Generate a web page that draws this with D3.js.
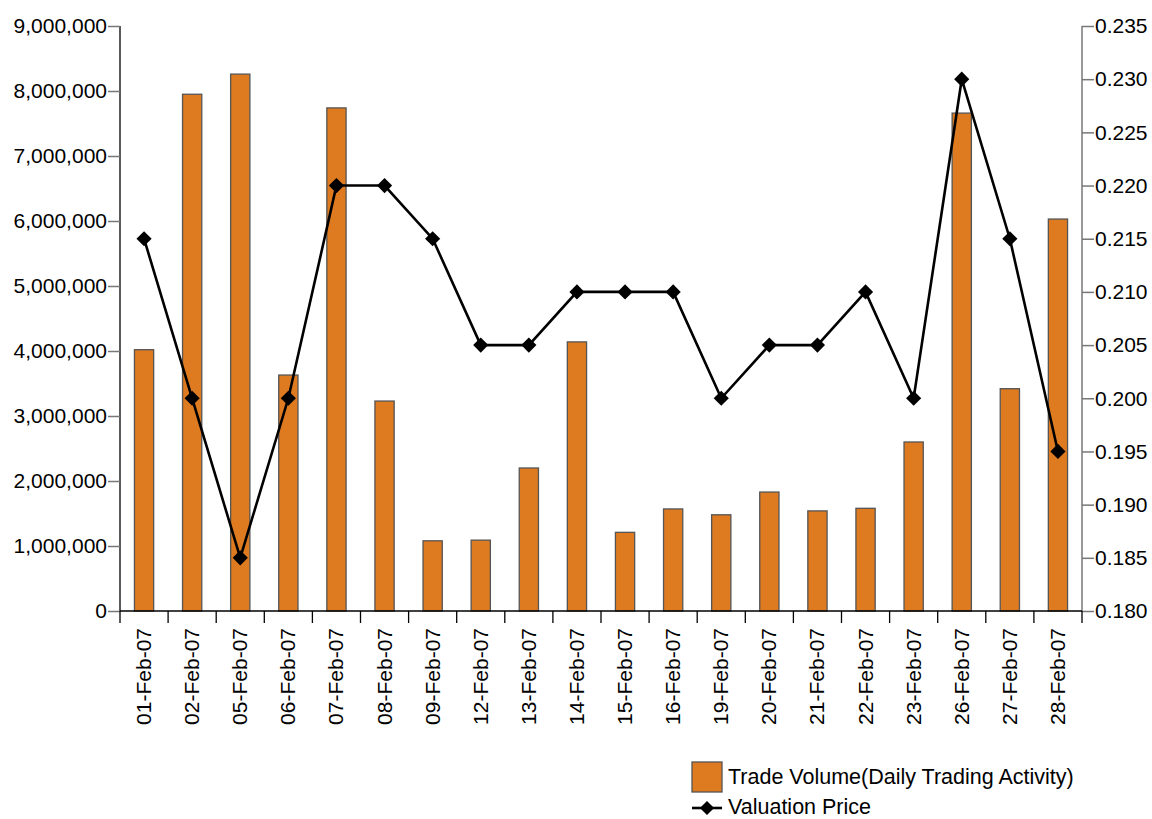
<!DOCTYPE html>
<html><head><meta charset="utf-8">
<script src="https://cdn.jsdelivr.net/npm/d3@7"></script>
<style>body{margin:0;background:#fff}svg{display:block}text{font-family:"Liberation Sans",Arial,sans-serif;fill:#000}</style>
</head><body><svg id="c" width="1152" height="819"></svg>
<script>
const categories = ["01-Feb-07","02-Feb-07","05-Feb-07","06-Feb-07","07-Feb-07","08-Feb-07","09-Feb-07","12-Feb-07","13-Feb-07","14-Feb-07","15-Feb-07","16-Feb-07","19-Feb-07","20-Feb-07","21-Feb-07","22-Feb-07","23-Feb-07","26-Feb-07","27-Feb-07","28-Feb-07"];
const volume = [4020000,7950000,8260000,3630000,7740000,3230000,1080000,1090000,2200000,4140000,1210000,1570000,1480000,1830000,1540000,1580000,2600000,7660000,3420000,6030000];
const price = [0.215,0.200,0.185,0.200,0.220,0.220,0.215,0.205,0.205,0.210,0.210,0.210,0.200,0.205,0.205,0.210,0.200,0.230,0.215,0.195];
const leftTicks = [0,1000000,2000000,3000000,4000000,5000000,6000000,7000000,8000000,9000000];
const rightTicks = [0.180,0.185,0.190,0.195,0.200,0.205,0.210,0.215,0.220,0.225,0.230,0.235];
const seriesNames = ["Trade Volume(Daily Trading Activity)","Valuation Price"];

const svg = d3.select("#c");
const L = 120, R = 1082, T = 26, B = 611;
const x = d3.scaleBand().domain(categories).range([L, R]).paddingInner(0.6).paddingOuter(0.3);
const xb = d3.scaleBand().domain(categories).range([L, R]);
const yL = d3.scaleLinear().domain([0, 9000000]).range([B, T]);
const yR = d3.scaleLinear().domain([0.180, 0.235]).range([B, T]);
const fmt = d3.format(",");

// bars
svg.append("g").selectAll("rect").data(volume).join("rect")
  .attr("x", (d,i) => x(categories[i]))
  .attr("y", d => yL(d))
  .attr("width", x.bandwidth())
  .attr("height", d => B - yL(d))
  .attr("fill", "#DE7A1F").attr("stroke", "#555").attr("stroke-width", 1.3);

// left axis
const gL = svg.append("g").attr("transform", `translate(${L},0)`)
  .call(d3.axisLeft(yL).tickValues(leftTicks).tickFormat(fmt).tickSize(12).tickPadding(1));
gL.select(".domain").attr("stroke", "#000").attr("stroke-width", 1.3).attr("d", `M0,${T}V${B}`);
gL.selectAll(".tick line").attr("stroke", "#777").attr("stroke-width", 1.5);
gL.selectAll("text").style("font-size", "21px").attr("fill", "#000");

// right axis
const gR = svg.append("g").attr("transform", `translate(${R},0)`)
  .call(d3.axisRight(yR).tickValues(rightTicks).tickFormat(d => d.toFixed(3)).tickSize(12).tickPadding(1));
gR.select(".domain").attr("stroke", "#777").attr("stroke-width", 1.5).attr("d", `M0,${T}V${B}`);
gR.selectAll(".tick line").attr("stroke", "#777").attr("stroke-width", 1.5);
gR.selectAll("text").style("font-size", "21px").attr("fill", "#000");

// bottom axis
const gB = svg.append("g");
gB.append("line").attr("x1", L).attr("x2", R).attr("y1", B).attr("y2", B).attr("stroke", "#000").attr("stroke-width", 1.3);
const bounds = categories.map(c => xb(c)).concat([R]);
gB.selectAll("line.t").data(bounds).join("line").attr("class","t")
  .attr("x1", d => d).attr("x2", d => d).attr("y1", B).attr("y2", B + 12)
  .attr("stroke", "#000").attr("stroke-width", 1.3);
gB.selectAll("text").data(categories).join("text")
  .attr("transform", d => `translate(${xb(d) + xb.bandwidth()/2 + 7},${B + 17}) rotate(-90)`)
  .attr("text-anchor", "end").style("font-size", "21px").text(d => d);

// line
const line = d3.line().x((d,i) => xb(categories[i]) + xb.bandwidth()/2).y(d => yR(d));
svg.append("path").datum(price).attr("d", line).attr("fill", "none").attr("stroke", "#000").attr("stroke-width", 2.6);
const diamond = d3.symbol().type(d3.symbolSquare).size(115);
svg.append("g").selectAll("path").data(price).join("path")
  .attr("d", diamond())
  .attr("transform", (d,i) => `translate(${xb(categories[i]) + xb.bandwidth()/2},${yR(d)}) rotate(45)`)
  .attr("fill", "#000");

// legend
const lg = svg.append("g");
lg.append("rect").attr("x", 692).attr("y", 762).attr("width", 30).attr("height", 30)
  .attr("fill", "#DE7A1F").attr("stroke", "#555").attr("stroke-width", 1.3);
lg.append("text").attr("x", 728).attr("y", 784).style("font-size", "21.5px").text(seriesNames[0]);
lg.append("line").attr("x1", 692).attr("x2", 722).attr("y1", 808).attr("y2", 808).attr("stroke", "#000").attr("stroke-width", 2.6);
lg.append("path").attr("d", d3.symbol().type(d3.symbolSquare).size(100)()).attr("transform", "translate(707,808) rotate(45)").attr("fill", "#000");
lg.append("text").attr("x", 728).attr("y", 814).style("font-size", "21.5px").text(seriesNames[1]);
</script></body></html>
